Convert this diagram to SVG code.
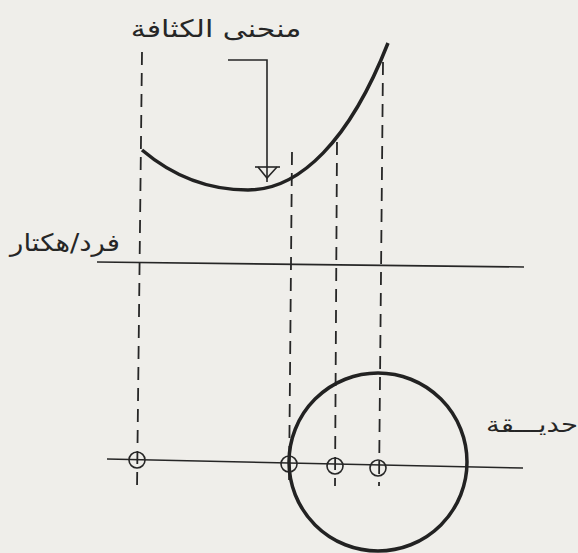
<svg xmlns="http://www.w3.org/2000/svg" width="578" height="553" viewBox="0 0 578 553">
  <style>
    .thin { stroke: #262626; stroke-width: 1.6; fill: none; }
    .dash { stroke: #262626; stroke-width: 1.8; fill: none; stroke-dasharray: 13 8; }
    .thick { stroke: #222222; stroke-width: 3.5; fill: none; }
    .ring { stroke: #262626; stroke-width: 1.6; fill: none; }
    .lbl { font-family: "DejaVu Sans", sans-serif; fill: #262626; }
  </style>
  <rect width="578" height="553" fill="#efeeea"/>

  <g id="connectors">
    <!-- dashed projection lines -->
    <line class="dash" x1="142" y1="52" x2="137" y2="490"/>
    <line class="dash" x1="292" y1="152" x2="289" y2="486"/>
    <line class="dash" x1="337" y1="142" x2="335" y2="486"/>
    <line class="dash" x1="383" y1="62" x2="379" y2="486"/>
    <!-- axis lines -->
    <line class="thin" x1="97" y1="262" x2="524" y2="267"/>
    <line class="thin" x1="107" y1="459" x2="523" y2="468"/>
    <!-- pointer to curve -->
    <polyline class="thin" points="228,60 267,60 267,182"/>
    <line class="thin" x1="255" y1="167" x2="280" y2="167"/>
    <polyline class="thin" points="258,167 267,178 277,167"/>
  </g>

  <g id="density-curve">
    <path class="thick" d="M142,150 C175,178 210,190 248,190 C300,190 350,140 388,43"/>
  </g>

  <g id="park">
    <circle class="thick" cx="378" cy="462" r="89"/>
  </g>

  <g id="points">
    <circle class="ring" cx="137" cy="460" r="8"/>
    <circle class="ring" cx="289" cy="464" r="8"/>
    <circle class="ring" cx="335" cy="466" r="8"/>
    <circle class="ring" cx="378" cy="468" r="8"/>
  </g>

  <g id="labels">
    <text class="lbl" font-size="24" text-anchor="middle" direction="rtl" transform="translate(216,37) scale(1.25,1)">منحنى الكثافة</text>
    <text class="lbl" font-size="24" text-anchor="middle" direction="rtl" transform="translate(65,251) scale(1.15,1)">فرد/هكتار</text>
    <text class="lbl" font-size="22" text-anchor="middle" direction="rtl" transform="translate(532,432) scale(1.25,1)">حديـــقة</text>
  </g>
</svg>
